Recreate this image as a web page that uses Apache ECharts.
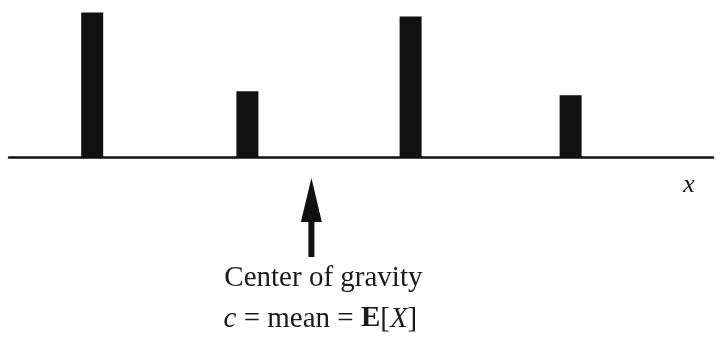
<!DOCTYPE html>
<html>
<head>
<meta charset="utf-8">
<script src="https://cdn.jsdelivr.net/npm/echarts@6/dist/echarts.min.js"></script>
<style>
  html, body { margin: 0; padding: 0; background: #fff; }
  #chart { width: 722px; height: 358px; }
</style>
</head>
<body>
<div id="chart"></div>
<script>
// Support points of the discrete distribution and their probability masses
const xValues = [0.52, 1.49, 2.51, 3.51];
const masses = [0.35, 0.16, 0.34, 0.15];
// Where the arrow points on the x axis (centre of gravity)
const arrowX = 1.89;
const axisLabel = 'x';
const captionLine1 = 'Center of gravity';

const SERIF = '"Liberation Serif", "DejaVu Serif", serif';
const INK = '#111';
const TEXT = '#1a1a1a';

const chart = echarts.init(document.getElementById('chart'), null, { renderer: 'canvas' });

const barData = xValues.map((x, i) => [x, masses[i]]);

chart.setOption({
  animation: false,
  backgroundColor: '#fff',
  grid: { left: 9, right: 9, top: 0, bottom: 200.5, containLabel: false },
  xAxis: {
    type: 'value',
    min: 0,
    max: 4.4,
    axisLine: { show: true, onZero: false, lineStyle: { color: INK, width: 2.5 } },
    axisTick: { show: false },
    axisLabel: { show: false },
    splitLine: { show: false }
  },
  yAxis: {
    type: 'value',
    min: 0,
    max: 0.38,
    show: false,
    splitLine: { show: false }
  },
  series: [{
    type: 'bar',
    data: barData,
    barWidth: 22,
    itemStyle: { color: INK },
    z: 1
  }]
});

function drawOverlay() {
  const ax = chart.convertToPixel({ xAxisIndex: 0 }, arrowX);
  const cx = ax + 12;
  chart.setOption({
    graphic: [
      {
        type: 'group',
        children: [
          // arrow head
          {
            type: 'polygon',
            shape: { points: [[ax, 178], [ax - 10.5, 222], [ax + 10.5, 222]] },
            style: { fill: INK }
          },
          // arrow shaft
          {
            type: 'rect',
            shape: { x: ax - 3, y: 221, width: 6, height: 36 },
            style: { fill: INK }
          },
          {
            type: 'text',
            x: cx,
            y: 278,
            style: {
              text: captionLine1,
              fill: TEXT,
              font: '29px ' + SERIF,
              align: 'center',
              verticalAlign: 'middle'
            }
          },
          {
            type: 'text',
            x: cx - 3,
            y: 319,
            style: {
              text: '{i|c} = mean = {b|E}[{i|X}]',
              fill: TEXT,
              font: '29px ' + SERIF,
              align: 'center',
              verticalAlign: 'middle',
              rich: {
                i: { fontStyle: 'italic', fontFamily: SERIF, fontSize: 29, fill: TEXT },
                b: { fontWeight: 'bold', fontFamily: SERIF, fontSize: 29, fill: TEXT }
              }
            }
          },
          {
            type: 'text',
            x: 689,
            y: 185,
            style: {
              text: axisLabel,
              fill: TEXT,
              font: 'italic 26px ' + SERIF,
              align: 'center',
              verticalAlign: 'middle'
            }
          }
        ]
      }
    ]
  });
}
drawOverlay();
</script>
</body>
</html>
